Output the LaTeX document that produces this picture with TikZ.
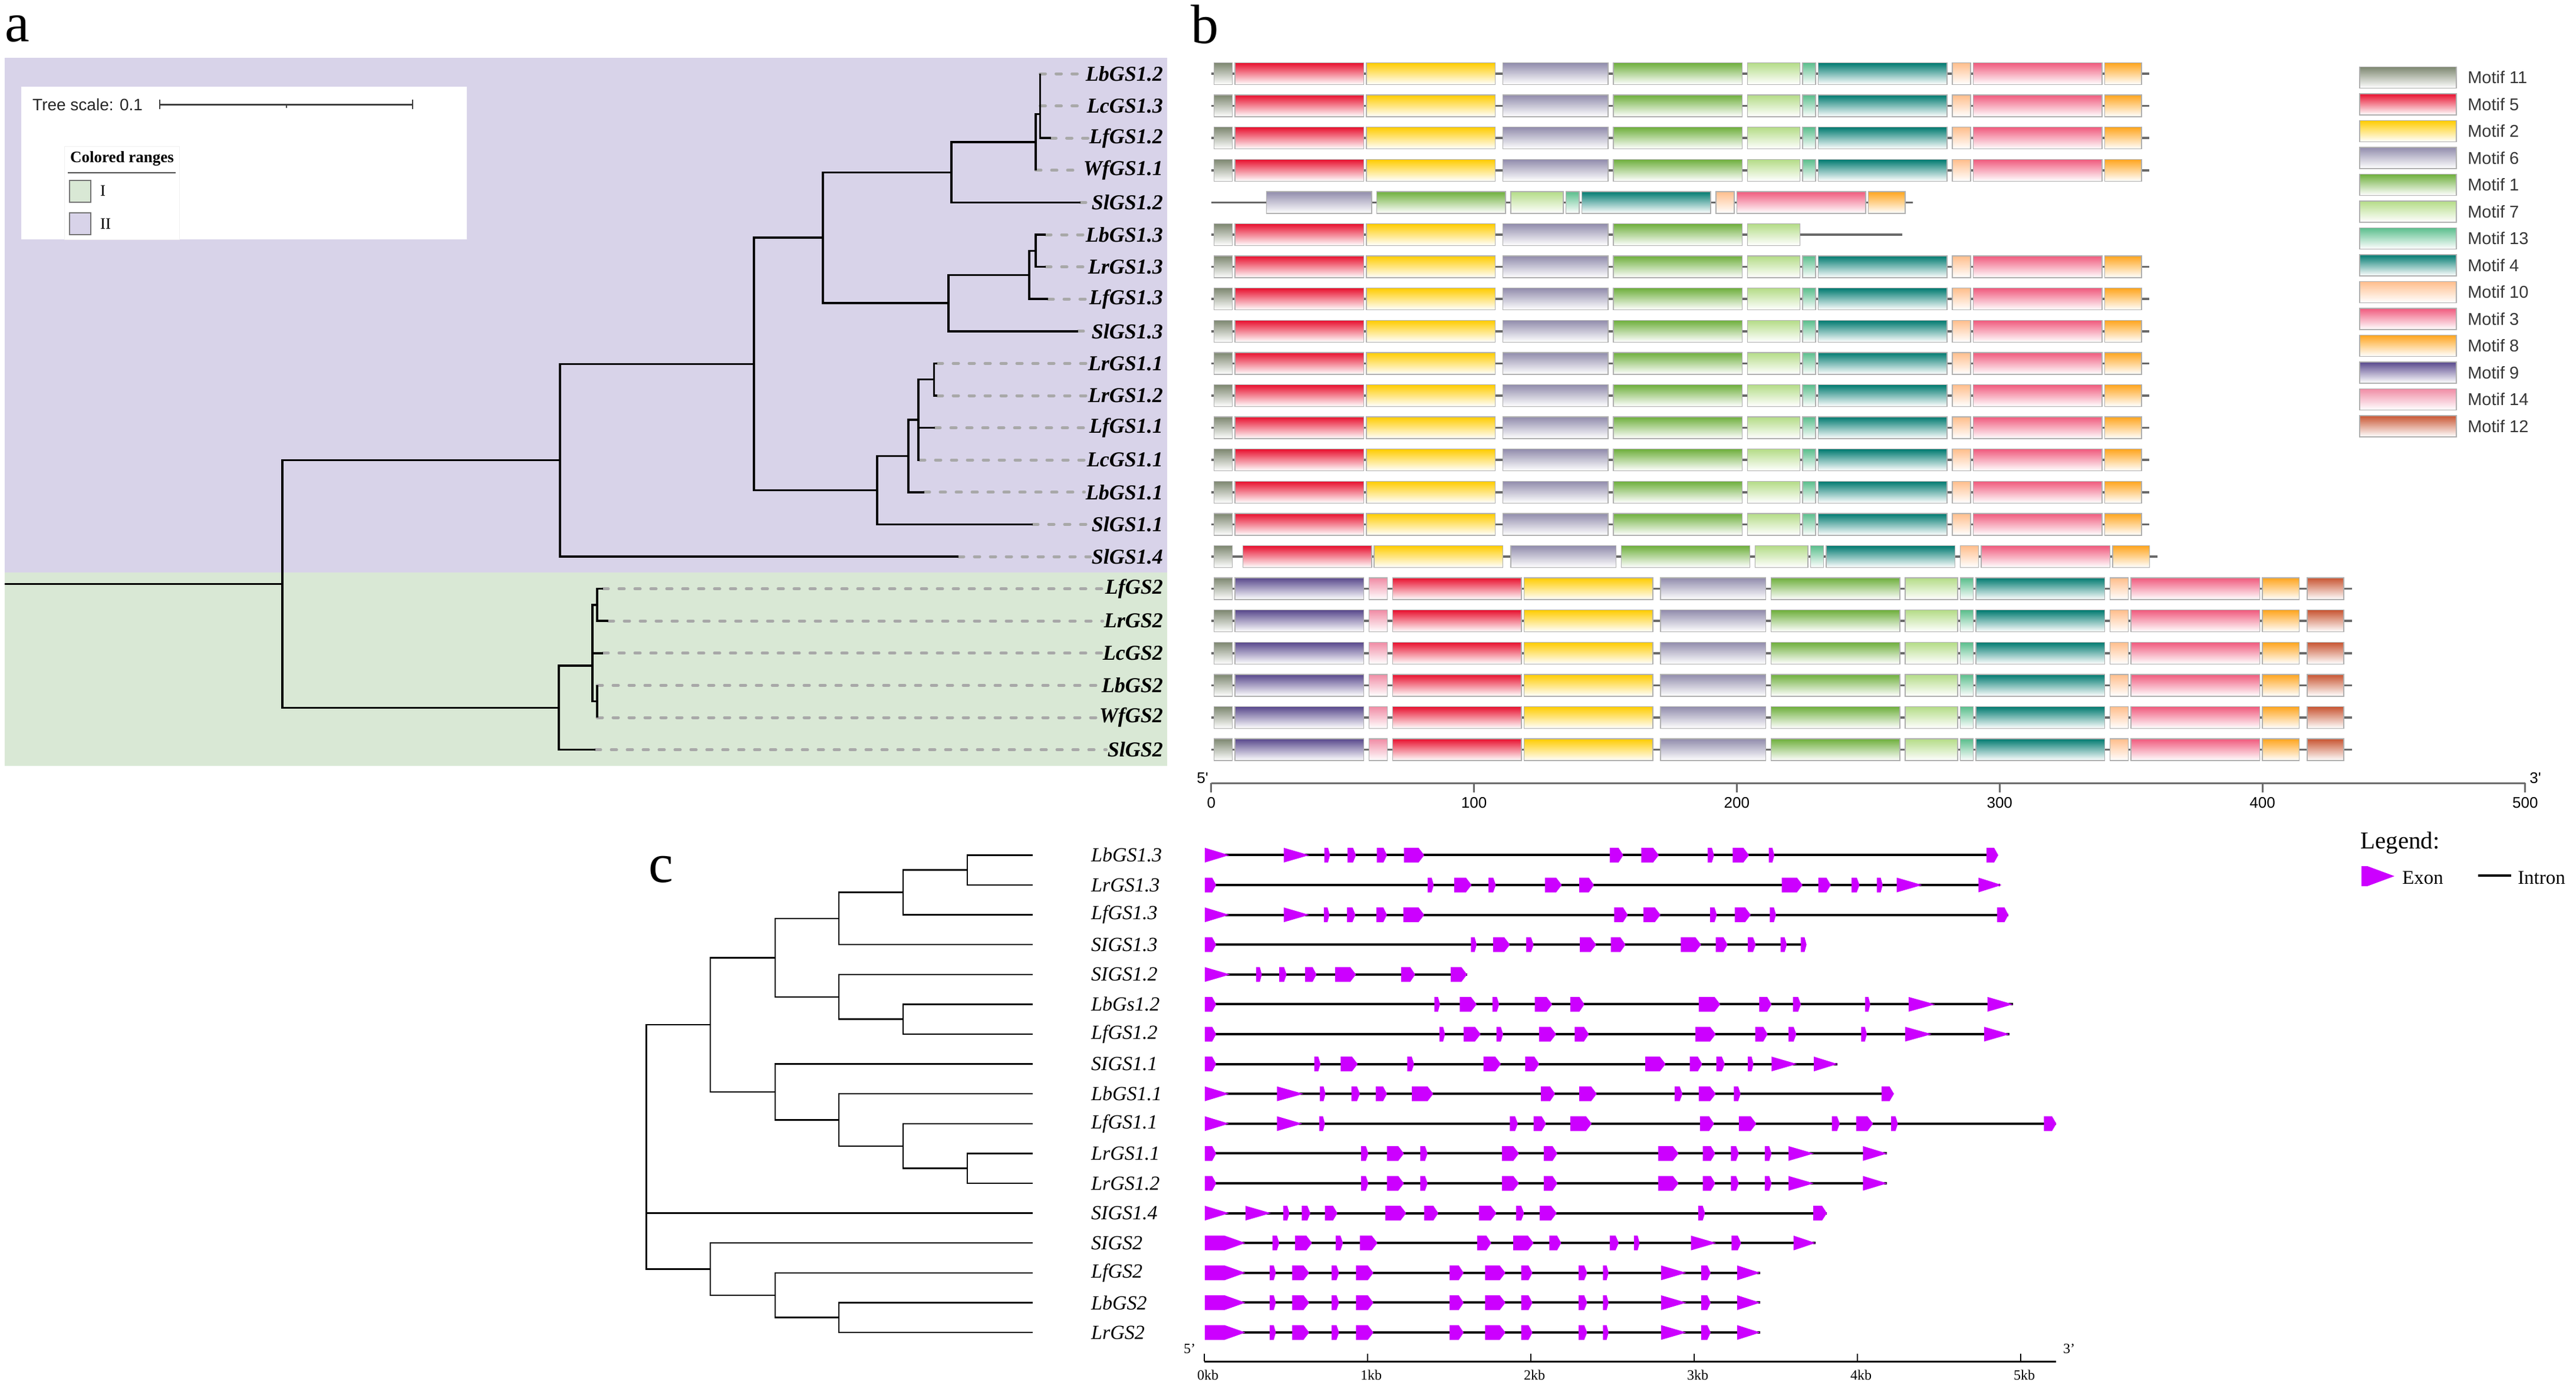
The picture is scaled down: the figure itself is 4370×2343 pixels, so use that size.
\documentclass[tikz,border=0pt]{standalone}
\usepackage{fontspec}
\setmainfont{Liberation Serif}
\newfontfamily\sansf{Liberation Sans}
\definecolor{purpleA}{RGB}{216,211,233}
\definecolor{greenA}{RGB}{217,232,213}
\definecolor{ldgrey}{RGB}{168,168,168}
\definecolor{bbgrey}{RGB}{105,105,105}
\definecolor{boxgrey}{RGB}{175,175,175}
\definecolor{exonc}{RGB}{204,0,255}
\definecolor{txtgrey}{RGB}{55,55,55}
\definecolor{m11}{RGB}{125,135,112}
\definecolor{m5}{RGB}{232,16,46}
\definecolor{m2}{RGB}{255,204,0}
\definecolor{m6}{RGB}{145,140,172}
\definecolor{m1}{RGB}{110,175,60}
\definecolor{m7}{RGB}{180,220,135}
\definecolor{m13}{RGB}{90,190,140}
\definecolor{m4}{RGB}{0,122,112}
\definecolor{m10}{RGB}{255,190,140}
\definecolor{m3}{RGB}{240,90,125}
\definecolor{m8}{RGB}{255,165,30}
\definecolor{m9}{RGB}{88,72,140}
\definecolor{m14}{RGB}{240,140,165}
\definecolor{m12}{RGB}{200,85,50}
% motif row: y, end, list
\newcommand\mrow[3]{%
  \draw[backbone] (0,#1) -- (#2,#1);
  \foreach \ms/\me/\mc in #3 {\path[mbox, top color=\mc, bottom color=white] (\ms,{#1-18.5}) rectangle (\me,{#1+18.5});}%
}
\def\stdA{1/8/m11,9/58/m5,59/108/m2,111/151/m6,153/202/m1,204/224/m7,225/230/m13,231/280/m4,282/289/m10,290/339/m3,340/354/m8}
\def\stdB{1/8/m11,9/58/m9,60/67/m14,69/118/m5,119/168/m2,171/211/m6,213/262/m1,264/284/m7,285/290/m13,291/340/m4,342/349/m10,350/399/m3,400/414/m8,417/431/m12}
% exons
\newcommand\eB[3]{%
  \pgfmathsetmacro\pp{min(0.35*(#3-#2),10)}%
  \fill[exonf] (#2,{#1-12.5}) -- ({#3-\pp},{#1-12.5}) -- (#3,#1) -- ({#3-\pp},{#1+12.5}) -- (#2,{#1+12.5}) -- cycle;}
\newcommand\eT[3]{\fill[exonf] (#2,{#1-12.5}) -- (#3,#1) -- (#2,{#1+12.5}) -- cycle;}
\newcommand\eP[4]{\fill[exonf] (#2,{#1-12.5}) -- ({#3-#4},{#1-12.5}) -- (#3,#1) -- ({#3-#4},{#1+12.5}) -- (#2,{#1+12.5}) -- cycle;}
\newcommand\gene[3]{%
  \draw[intron] (25,#1) -- (#2,#1);
  \foreach \ga/\gb in {#3} {\eB{#1}{\ga}{\gb}}%
}
\begin{document}
\begin{tikzpicture}[x=1pt,y=-1pt,
  treeA/.style={line width=3.5pt, black},
  leader/.style={draw=ldgrey, line width=5pt, dash pattern=on 9pt off 18pt, line cap=round},
  labA/.style={font=\fontsize{36}{40}\selectfont\bfseries\itshape, inner sep=2pt, anchor=east},
  labC/.style={font=\fontsize{34}{38}\selectfont\itshape, inner sep=0pt, anchor=west},
  treeC/.style={line width=2.5pt, black},
  backbone/.style={draw=bbgrey, line width=3.5pt},
  mbox/.style={draw=boxgrey, line width=1.5pt},
  intron/.style={line width=4pt, black},
  exonf/.style={fill=exonc},
  plabel/.style={font=\fontsize{94}{100}\selectfont, anchor=base west, inner sep=0pt},
  axisb/.style={draw=bbgrey, line width=3pt},
  numb/.style={font=\sansf\fontsize{26}{30}\selectfont, inner sep=0pt},
  motlab/.style={font=\sansf\fontsize{29}{32}\selectfont, text=txtgrey, anchor=west, inner sep=0pt},
  kbl/.style={font=\fontsize{24}{28}\selectfont, inner sep=0pt}
]
\useasboundingbox (0,0) rectangle (4370,2343);
\fill[white] (0,0) rectangle (4370,2343);

% ================= panel a =================
\node[plabel] (pa) at (8,70) {a};
\fill[purpleA] (8,97.7) rectangle (1980,971.3);
\fill[greenA] (8,971.3) rectangle (1980,1299);
% legend box
\fill[white] (36,147) rectangle (792,406);
\node[font=\sansf\fontsize{28}{32}\selectfont, text=black!85, anchor=west, inner sep=0pt] (ts) at (55,177) {Tree scale: 0.1};
\coordinate (sb1) at (271,177);
\coordinate (sb2) at (700,177);
\draw[line width=3pt, black!75] (sb1) -- (sb2);
\draw[line width=2pt, black!75] (271,169) -- (271,185) (700,169) -- (700,185) (486,177) -- (486,183);
\draw[line width=1pt, black!6] (109,248) rectangle (304,406);
\node[font=\fontsize{27}{30}\selectfont\bfseries, inner sep=0pt] (cr) at (207,269) {Colored ranges};
\draw[line width=2.5pt, black!70] (115,293) -- (298,293);
\filldraw[fill=greenA, draw=black!55, line width=2pt] (118,306) rectangle (154,343);
\node[font=\fontsize{27}{30}\selectfont, anchor=west, inner sep=0pt] (lgI) at (170,324) {I};
\filldraw[fill=purpleA, draw=black!55, line width=2pt] (118,361) rectangle (154,398);
\node[font=\fontsize{27}{30}\selectfont, anchor=west, inner sep=0pt] (lgII) at (170,380) {II};

% labels, tips and leaders
\foreach \n/\tx [count=\i from 0] in {LbGS1.2/1764.5,LcGS1.3/1764.5,LfGS1.2/1782.5,WfGS1.1/1757,SlGS1.2/1833,LbGS1.3/1774,LrGS1.3/1774,LfGS1.3/1778,SlGS1.3/1829,LrGS1.1/1590,LrGS1.2/1590,LfGS1.1/1586,LcGS1.1/1560,LbGS1.1/1568,SlGS1.1/1752,SlGS1.4/1626,LfGS2/1023,LrGS2/1032,LcGS2/1023,LbGS2/1013,WfGS2/1013,SlGS2/1010} {
  \pgfmathsetmacro\yy{125+54.6*\i}
  \node[labA] (la\i) at (1975,\yy) {\n};
  \coordinate (ta\i) at (\tx,\yy);
  \draw[leader] (ta\i) -- (la\i.west);
}
% internal nodes
\coordinate (nc4a) at (1764.5,193.5);
\coordinate (nc4) at (1757,241.15);
\coordinate (nA) at (1614,292.3);
\coordinate (nb2) at (1757,425.3);
\coordinate (nb1) at (1746,466.25);
\coordinate (nB) at (1609,514);
\coordinate (nAB) at (1396,403.2);
\coordinate (N1) at (1584.5,643.7);
\coordinate (N2) at (1558,712);
\coordinate (N3) at (1541,773.4);
\coordinate (N4) at (1488,831.4);
\coordinate (N5) at (1279,617.3);
\coordinate (N6) at (950,780.6);
\coordinate (G1) at (1013,1025.9);
\coordinate (G2) at (1013,1189.7);
\coordinate (G4) at (1005,1129);
\coordinate (G5) at (948,1200.3);
\coordinate (R) at (479,990.5);
\coordinate (Rs) at (8,990.5);
\draw[treeA] (ta0) -| (nc4a) |- (ta2);
\draw[treeA] (ta1) -| (nc4a);
\draw[treeA] (nc4a) -| (nc4) |- (ta3);
\draw[treeA] (nc4) -| (nA) |- (ta4);
\draw[treeA] (ta5) -| (nb2) |- (ta6);
\draw[treeA] (nb2) -| (nb1) |- (ta7);
\draw[treeA] (nb1) -| (nB) |- (ta8);
\draw[treeA] (nA) -| (nAB) |- (nB);
\draw[treeA] (ta9) -| (N1) |- (ta10);
\draw[treeA] (N1) -| (N2) |- (ta12);
\draw[treeA] (ta11) -| (N2);
\draw[treeA] (N2) -| (N3) |- (ta13);
\draw[treeA] (N3) -| (N4) |- (ta14);
\draw[treeA] (nAB) -| (N5) |- (N4);
\draw[treeA] (N5) -| (N6) |- (ta15);
\draw[treeA] (ta16) -| (G1) |- (ta17);
\draw[treeA] (ta19) -| (G2) |- (ta20);
\draw[treeA] (G1) -| (G4) |- (G2);
\draw[treeA] (ta18) -| (G4);
\draw[treeA] (G4) -| (G5) |- (ta21);
\draw[treeA] (N6) -| (R) |- (G5);
\draw[treeA] (Rs) -- (R);

% ================= panel b =================
\node[plabel] (pb) at (2020,73) {b};
\begin{scope}[shift={(2054.8pt,0pt)}, x=4.458pt]
  \foreach \i in {0,1,2,3,6,7,8,9,10,11,12,13,14} {
    \pgfmathsetmacro\yy{125+54.6*\i}
    \mrow{\yy}{357}{\stdA}
  }
  \mrow{343.4}{267}{{21/61/m6,63/112/m1,114/134/m7,135/140/m13,141/190/m4,192/199/m10,200/249/m3,250/264/m8}}
  \mrow{398}{263}{{1/8/m11,9/58/m5,59/108/m2,111/151/m6,153/202/m1,204/224/m7}}
  \mrow{944}{360}{{1/8/m11,12/61/m5,62/111/m2,114/154/m6,156/205/m1,207/227/m7,228/233/m13,234/283/m4,285/292/m10,293/342/m3,343/357/m8}}
  \foreach \i in {16,...,21} {
    \pgfmathsetmacro\yy{125+54.6*\i}
    \mrow{\yy}{434}{\stdB}
  }
  % axis
  \coordinate (ax0) at (0,1328);
  \coordinate (ax5) at (500,1328);
  \draw[axisb] (ax0) -- (ax5);
  \foreach \v in {0,100,...,500} {
    \draw[axisb] (\v,1328) -- (\v,1344);
    \node[numb] (tb\v) at (\v,1362) {\v};
  }
\end{scope}
\node[numb] (five) at (2040,1320) {5'};
\node[numb] (three) at (4301,1320) {3'};
% motif legend
\foreach \m/\mc [count=\j from 0] in {11/m11,5/m5,2/m2,6/m6,1/m1,7/m7,13/m13,4/m4,10/m10,3/m3,8/m8,9/m9,14/m14,12/m12} {
  \pgfmathsetmacro\ly{131.3+45.5*\j}
  \path[mbox, top color=\mc, bottom color=white] (4003,{\ly-18}) rectangle (4167,{\ly+18});
  \node[motlab] (ml\j) at (4186,\ly) {Motif \m};
}

% ================= panel c =================
\node[plabel] (pc) at (1100,1496) {c};
\foreach \n [count=\i from 0] in {LbGS1.3,LrGS1.3,LfGS1.3,SIGS1.3,SIGS1.2,LbGs1.2,LfGS1.2,SIGS1.1,LbGS1.1,LfGS1.1,LrGS1.1,LrGS1.2,SIGS1.4,SIGS2,LfGS2,LbGS2,LrGS2} {
  \pgfmathsetmacro\yy{1450.4+50.6*\i}
  \node[labC] (lc\i) at (1851,\yy) {\n};
  \coordinate (tc\i) at (1752,\yy);
}
\coordinate (a1) at (1641,1475.7);
\coordinate (a2) at (1532,1513.65);
\coordinate (a3) at (1423,1557.9);
\coordinate (b1) at (1532,1728.7);
\coordinate (b2) at (1423,1690.75);
\coordinate (ab) at (1315,1624.3);
\coordinate (d1) at (1641,1981.7);
\coordinate (d2) at (1532,1943.75);
\coordinate (d3) at (1423,1899.5);
\coordinate (d4) at (1315,1852);
\coordinate (abd) at (1205,1738.15);
\coordinate (e1) at (1423,2234.7);
\coordinate (e2) at (1315,2196.75);
\coordinate (e3) at (1205,2152.5);
\coordinate (rc) at (1096.6,1945.3);
\draw[treeC] (tc0) -| (a1) |- (tc1);
\draw[treeC] (a1) -| (a2) |- (tc2);
\draw[treeC] (a2) -| (a3) |- (tc3);
\draw[treeC] (tc5) -| (b1) |- (tc6);
\draw[treeC] (tc4) -| (b2) |- (b1);
\draw[treeC] (a3) -| (ab) |- (b2);
\draw[treeC] (tc10) -| (d1) |- (tc11);
\draw[treeC] (tc9) -| (d2) |- (d1);
\draw[treeC] (tc8) -| (d3) |- (d2);
\draw[treeC] (tc7) -| (d4) |- (d3);
\draw[treeC] (ab) -| (abd) |- (d4);
\draw[treeC] (tc15) -| (e1) |- (tc16);
\draw[treeC] (tc14) -| (e2) |- (e1);
\draw[treeC] (tc13) -| (e3) |- (e2);
\draw[treeC] (abd) -| (rc) |- (e3);
\draw[treeC, line width=3pt] (tc12) -| (rc);

% gene structures
\begin{scope}[shift={(2020pt,0pt)}, x=0.9566pt]
  \def\Y{1450.4}
  \gene{\Y}{1425}{237/247,278/293,330/348,378/414,743/767,799/830,917/928,961/990,1025/1035,1411/1432}
  \eT{\Y}{25}{68}\eT{\Y}{165}{210}
  \def\Y{1501}
  \gene{\Y}{1435}{25/45,420/431,467/498,528/541,628/658,689/715,1048/1085,1113/1135,1172/1186,1217/1227}
  \eT{\Y}{1252}{1297}\eT{\Y}{1397}{1438}
  \def\Y{1551.6}
  \gene{\Y}{1450}{236/246,277/292,329/348,377/414,751/775,803/833,921/933,965/993,1027/1038,1430/1450}
  \eT{\Y}{25}{68}\eT{\Y}{165}{210}
  \def\Y{1602.2}
  \gene{\Y}{1090}{25/45,497/507,536/566,595/608,690/719,745/771,869/905,931/952,988/1002,1046/1057,1082/1092}
  \def\Y{1652.8}
  \gene{\Y}{490}{116/126,157/170,203/223,256/293,373/398,461/490}
  \eT{\Y}{25}{70}
  \def\Y{1703.4}
  \gene{\Y}{1458}{25/45,432/442,477/507,535/547,610/641,673/698,901/939,1008/1030,1068/1082,1196/1205}
  \eT{\Y}{1273}{1320}\eT{\Y}{1413}{1458}
  \def\Y{1754}
  \gene{\Y}{1452}{25/45,441/451,484/514,542/554,618/648,681/706,895/931,1001/1023,1060/1074,1189/1199}
  \eT{\Y}{1267}{1314}\eT{\Y}{1407}{1452}
  \def\Y{1804.6}
  \gene{\Y}{1147}{25/45,219/230,266/296,384/396,519/550,593/618,806/842,885/907,932/947,988/998}
  \eT{\Y}{1030}{1075}\eT{\Y}{1105}{1147}
  \def\Y{1855.2}
  \gene{\Y}{1245}{229/239,285/300,328/348,392/430,621/646,689/720,858/872,901/931,963/975,1225/1247}
  \eT{\Y}{25}{68}\eT{\Y}{153}{200}
  \def\Y{1905.8}
  \gene{\Y}{1535}{228/238,566/580,608/630,673/711,903/928,972/1003,1137/1151,1180/1210,1242/1254,1513/1535}
  \eT{\Y}{25}{68}\eT{\Y}{153}{198}
  \foreach \Y in {1956.4,2007} {
    \gene{\Y}{1235}{25/45,302/315,348/378,407/420,552/582,626/650,829/865,908/930,958/972,1018/1030}
    \eT{\Y}{1060}{1105}\eT{\Y}{1192}{1235}
  }
  \def\Y{2057.6}
  \gene{\Y}{1128}{164/175,197/212,238/260,345/382,414/439,511/542,577/591,619/649,900/912,1104/1128}
  \eT{\Y}{25}{68}\eT{\Y}{97}{142}
  \def\Y{2108.2}
  \gene{\Y}{1108}{145/157,185/215,257/270,300/331,508/533,572/608,636/657,743/759,786/796,959/976}
  \eT{\Y}{887}{932}\eT{\Y}{1069}{1108}\eP{\Y}{25}{97}{37}
  \foreach \Y in {2158.8,2209.4,2260} {
    \gene{\Y}{1010}{140/151,180/210,250/263,293/324,459/484,522/558,586/606,688/703,731/741,905/922}
    \eT{\Y}{834}{879}\eT{\Y}{969}{1010}\eP{\Y}{25}{97}{37}
  }
\end{scope}
% kb axis
\coordinate (kb0) at (2043,2309);
\coordinate (kbe) at (3488,2309);
\draw[line width=3pt, black] (kb0) -- (kbe);
\foreach \k in {0,...,5} {
  \pgfmathsetmacro\kx{2043+277*\k}
  \draw[line width=2pt, black] (\kx,2296) -- (\kx,2309);
  \node[kbl] (kbl\k) at ({\kx+6},2332) {\k kb};
}
\node[kbl] (f5c) at (2018,2288) {5'};
\node[kbl] (f3c) at (3510,2288) {3'};
% legend c
\node[font=\fontsize{41}{45}\selectfont, anchor=west, inner sep=0pt] (leg) at (4004,1430) {Legend:};
\fill[exonc] (4006,1469) -- (4016,1469) -- (4062,1486) -- (4016,1503) -- (4006,1503) -- cycle;
\node[font=\fontsize{33}{36}\selectfont, anchor=west, inner sep=0pt] (lex) at (4075,1489) {Exon};
\coordinate (li1) at (4204,1485);
\coordinate (li2) at (4260,1485);
\draw[line width=4pt, black] (li1) -- (li2);
\node[font=\fontsize{33}{36}\selectfont, anchor=west, inner sep=0pt] (lin) at (4271,1489) {Intron};
\end{tikzpicture}
\end{document}
